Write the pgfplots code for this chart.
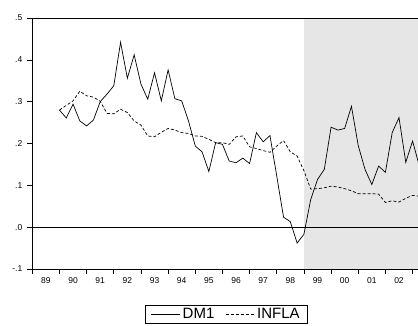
\documentclass[border=0pt]{standalone}
\usepackage{fontspec}
\setmainfont{Liberation Sans}
\usepackage{pgfplots}
\pgfplotsset{compat=1.18}
\definecolor{shade}{RGB}{230,230,230}
\begin{document}
\begin{tikzpicture}
\begin{axis}[
  scale only axis, width=385.7pt, height=251pt,
  xmin=1989, xmax=2003.2, ymin=-0.1, ymax=0.5,
  axis x line=box, axis y line=left,
  axis line style={-, line width=0.7pt, black},
  axis on top,
  tick align=outside,
  xtick pos=bottom,
  xtick={1989,1990,...,2003},
  xticklabels={89,90,91,92,93,94,95,96,97,98,99,00,01,02},
  x tick label as interval=true,
  minor x tick num=3,
  major tick length=5pt, minor tick length=3pt,
  every tick/.style={black, line width=0.6pt},
  ytick={-0.1,0,0.1,0.2,0.3,0.4,0.5},
  yticklabels={-.1,.0,.1,.2,.3,.4,.5},
  tick label style={font=\fontsize{8.5}{9}\selectfont},
  yticklabel style={xshift=-1.5pt},
  legend style={at={(0.503,-0.1434)}, anchor=north, legend columns=2,
    draw=black, line width=0.6pt, font=\fontsize{15}{16}\selectfont,
    inner xsep=6pt, inner ysep=1pt, /tikz/every even column/.append style={column sep=9pt}},
  legend image code/.code={\draw[#1] (0pt,0pt) -- (29pt,0pt);},
]
\addplot[fill=shade, draw=none, forget plot] coordinates {(1999,-0.1) (1999,0.5) (2003.5,0.5) (2003.5,-0.1)} -- cycle;
\addplot[black, line width=0.6pt, forget plot] coordinates {(1989,0) (2003.5,0)};
\addplot[black, line width=0.7pt] coordinates {
(1990.00,0.280) (1990.25,0.261) (1990.50,0.294) (1990.75,0.254)
(1991.00,0.242) (1991.25,0.256) (1991.50,0.300) (1991.75,0.318)
(1992.00,0.338) (1992.25,0.442) (1992.50,0.356) (1992.75,0.412)
(1993.00,0.342) (1993.25,0.306) (1993.50,0.369) (1993.75,0.302)
(1994.00,0.376) (1994.25,0.307) (1994.50,0.302) (1994.75,0.254)
(1995.00,0.194) (1995.25,0.180) (1995.50,0.133) (1995.75,0.202)
(1996.00,0.198) (1996.25,0.158) (1996.50,0.154) (1996.75,0.165)
(1997.00,0.152) (1997.25,0.226) (1997.50,0.204) (1997.75,0.219)
(1998.00,0.122) (1998.25,0.024) (1998.50,0.013) (1998.75,-0.038)
(1999.00,-0.017) (1999.25,0.066) (1999.50,0.114) (1999.75,0.138)
(2000.00,0.239) (2000.25,0.232) (2000.50,0.236) (2000.75,0.289)
(2001.00,0.195) (2001.25,0.138) (2001.50,0.102) (2001.75,0.146)
(2002.00,0.131) (2002.25,0.226) (2002.50,0.262) (2002.75,0.155)
(2003.00,0.206) (2003.25,0.146)
};
\addlegendentry{DM1}
\addplot[black, line width=0.7pt, dash pattern=on 3pt off 2pt] coordinates {
(1990.00,0.280) (1990.25,0.291) (1990.50,0.302) (1990.75,0.325)
(1991.00,0.314) (1991.25,0.311) (1991.50,0.301) (1991.75,0.272)
(1992.00,0.271) (1992.25,0.282) (1992.50,0.274) (1992.75,0.254)
(1993.00,0.244) (1993.25,0.218) (1993.50,0.216) (1993.75,0.227)
(1994.00,0.236) (1994.25,0.232) (1994.50,0.226) (1994.75,0.224)
(1995.00,0.218) (1995.25,0.217) (1995.50,0.210) (1995.75,0.202)
(1996.00,0.202) (1996.25,0.198) (1996.50,0.216) (1996.75,0.218)
(1997.00,0.192) (1997.25,0.188) (1997.50,0.183) (1997.75,0.179)
(1998.00,0.194) (1998.25,0.207) (1998.50,0.180) (1998.75,0.170)
(1999.00,0.135) (1999.25,0.091) (1999.50,0.092) (1999.75,0.094)
(2000.00,0.098) (2000.25,0.096) (2000.50,0.092) (2000.75,0.087)
(2001.00,0.080) (2001.25,0.080) (2001.50,0.080) (2001.75,0.079)
(2002.00,0.059) (2002.25,0.063) (2002.50,0.060) (2002.75,0.069)
(2003.00,0.076) (2003.25,0.074)
};
\addlegendentry{INFLA}
\end{axis}
\pgfresetboundingbox
\path[use as bounding box] (-32.3pt,-57pt) rectangle (385.7pt,269pt);
\end{tikzpicture}
\end{document}
